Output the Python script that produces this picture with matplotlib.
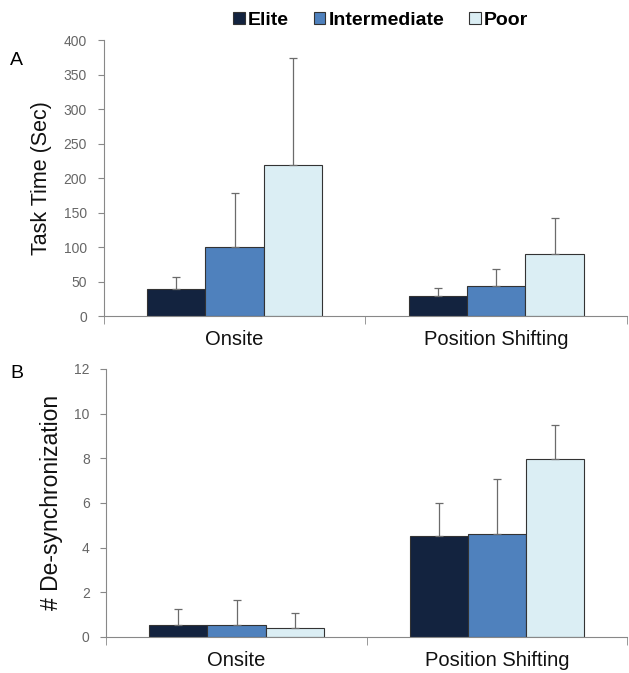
import numpy as np
import matplotlib.pyplot as plt
from matplotlib.patches import Patch

categories = ['Onsite', 'Position Shifting']
groups = ['Elite', 'Intermediate', 'Poor']

# panel A: task time (sec)
time_elite = [39, 29]
time_inter = [101, 44]
time_poor = [219, 90]
time_elite_err = [18, 12]
time_inter_err = [78, 24]
time_poor_err = [156, 53]

# panel B: number of de-synchronizations
desync_elite = [0.55, 4.5]
desync_inter = [0.55, 4.6]
desync_poor = [0.4, 7.95]
desync_elite_err = [0.7, 1.5]
desync_inter_err = [1.1, 2.45]
desync_poor_err = [0.68, 1.55]

colors = ['#13233f', '#4f81bd', '#dbeef4']
font = ['Liberation Sans', 'DejaVu Sans']

fig = plt.figure(figsize=(6.29, 6.73), dpi=100)
ax1 = fig.add_axes([0.165, 0.530, 0.832, 0.410])
ax2 = fig.add_axes([0.169, 0.0535, 0.828, 0.3985])


def draw_panel(ax, vals, errs, ymax, step, ylabel, ylabel_size):
    x = np.arange(len(categories))
    w = 0.223
    for i, (v, e) in enumerate(zip(vals, errs)):
        ax.bar(x + (i - 1) * w, v, w, color=colors[i], edgecolor='#333333', linewidth=0.8, zorder=2)
        ax.errorbar(x + (i - 1) * w, v, yerr=[np.zeros(len(e)), e], fmt='none',
                    ecolor='#6b6b6b', elinewidth=0.9, capsize=3, capthick=0.9, zorder=3)
    ax.set_xlim(-0.5, 1.5)
    ax.set_ylim(0, ymax)
    ax.set_yticks(np.arange(0, ymax + 1e-9, step))
    ax.set_xticks(x)
    ax.set_xticklabels(categories, fontsize=14.5, family=font, color='#111111')
    ax.set_xticks([-0.5, 0.5, 1.5], minor=True)
    ax.tick_params(axis='x', which='major', length=0, pad=10)
    ax.tick_params(axis='x', which='minor', length=6, color='#888888')
    ax.tick_params(axis='y', length=4, color='#888888', labelsize=10, labelcolor='#666666', pad=8)
    for lab in ax.get_yticklabels():
        lab.set_family(font)
    for s in ['top', 'right']:
        ax.spines[s].set_visible(False)
    for s in ['left', 'bottom']:
        ax.spines[s].set_color('#888888')
    ax.set_ylabel(ylabel, fontsize=ylabel_size, family=font, color='#111111')


draw_panel(ax1, [time_elite, time_inter, time_poor],
           [time_elite_err, time_inter_err, time_poor_err], 400, 50, 'Task Time (Sec)', 15.5)
draw_panel(ax2, [desync_elite, desync_inter, desync_poor],
           [desync_elite_err, desync_inter_err, desync_poor_err], 12, 2, '# De-synchronization', 16.5)
ax1.yaxis.set_label_coords(-0.099, 0.5)
ax2.yaxis.set_label_coords(-0.084, 0.5)

fig.text(0.016, 0.903, 'A', fontsize=14, family=font)
fig.text(0.016, 0.439, 'B', fontsize=14, family=font)

handles = [Patch(facecolor=c, edgecolor='#333333', linewidth=0.8) for c in colors]
fig.legend(handles, groups, loc='center', bbox_to_anchor=(0.605, 0.970), ncol=3, frameon=False,
           prop={'family': font, 'weight': 'bold', 'size': 14}, handlelength=0.6, handleheight=0.6,
           handletextpad=0.15, columnspacing=1.3)

fig.savefig('out.png', dpi=100)
